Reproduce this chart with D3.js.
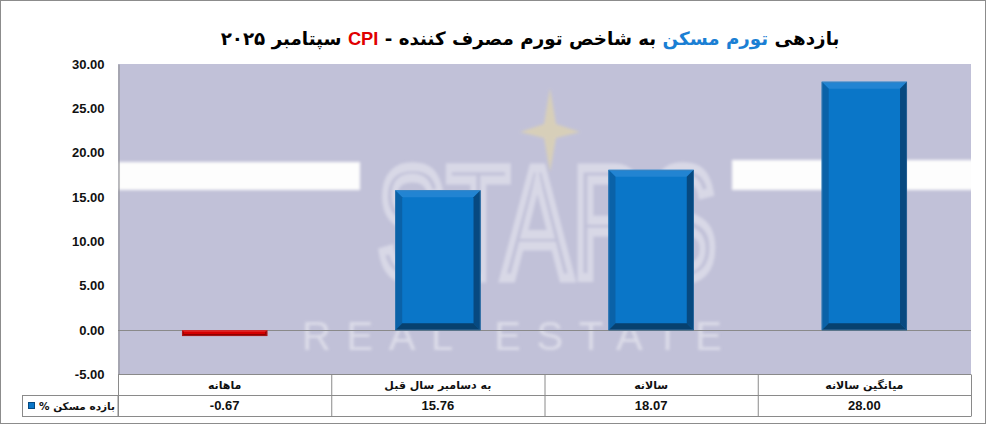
<!DOCTYPE html>
<html>
<head>
<meta charset="utf-8">
<script src="https://cdn.jsdelivr.net/npm/d3@7/dist/d3.min.js"></script>
<style>
  html, body { margin: 0; padding: 0; background: #fff; }
  svg { display: block; }
</style>
</head>
<body>
<svg id="chart" width="987" height="425"></svg>
<script>
// Chart data
const categories = ["ماهانه", "به دسامبر سال قبل", "سالانه", "میانگین سالانه"];
const values = [-0.67, 15.76, 18.07, 28.00];
const seriesName = "بازده مسکن %";
const yTicks = [-5, 0, 5, 10, 15, 20, 25, 30];
const titleParts = [
  { text: "بازدهی ", color: "#000" },
  { text: "تورم مسکن", color: "#1a7fd4" },
  { text: " به شاخص تورم مصرف کننده - ", color: "#000" },
  { text: "CPI", color: "#e00000" },
  { text: "  سپتامبر ۲۰۲۵", color: "#000" }
];

const W = 987, H = 425;
const plot = { left: 118, right: 971, top: 64, bottom: 374.5 };
const table = { row1: 374.5, row2: 395.5, row3: 416.5, legendLeft: 22.5 };
const faFont = "'DejaVu Sans', sans-serif";
const numFont = "'Liberation Sans', Arial, sans-serif";

// plain hyphen for negative numbers
const fmt = d3.formatLocale({ decimal: ".", thousands: ",", grouping: [3], currency: ["", ""], minus: "-" }).format(".2f");

const svg = d3.select("#chart");

// outer frame
svg.append("rect").attr("x", 0.5).attr("y", 0.5).attr("width", W - 2).attr("height", H - 2)
  .attr("fill", "#fff").attr("stroke", "#8c8c8c");

const y = d3.scaleLinear().domain([-5, 30]).range([plot.bottom, plot.top]);
const x = d3.scaleBand().domain(categories).range([plot.left, plot.right])
  .paddingInner(0.6).paddingOuter(0.3);
const col = d3.scaleBand().domain(categories).range([plot.left, plot.right]).padding(0);

// plot background
svg.append("rect").attr("x", plot.left).attr("y", plot.top)
  .attr("width", plot.right - plot.left).attr("height", plot.bottom - plot.top)
  .attr("fill", "#c1c1d8");

// watermark logo
const defs = svg.append("defs");
defs.append("filter").attr("id", "soft").append("feGaussianBlur").attr("stdDeviation", 1.6);
defs.append("clipPath").attr("id", "plotClip").append("rect")
  .attr("x", plot.left).attr("y", plot.top)
  .attr("width", plot.right - plot.left).attr("height", plot.bottom - plot.top);

const wm = svg.append("g").attr("clip-path", "url(#plotClip)");
const wmBands = wm.append("g").attr("filter", "url(#soft)");
wmBands.append("rect").attr("x", plot.left).attr("y", 162).attr("width", 242).attr("height", 28).attr("fill", "#fdfdfd");
wmBands.append("rect").attr("x", 732).attr("y", 160).attr("width", 250).attr("height", 30).attr("fill", "#fdfdfd");
wm.append("text").attr("x", 547).attr("y", 278).attr("text-anchor", "middle")
  .attr("font-family", "'Liberation Sans', Arial, sans-serif").attr("font-size", 160)
  .attr("textLength", 340).attr("lengthAdjust", "spacingAndGlyphs")
  .attr("fill", "none").attr("stroke", "#f4f4f8").attr("stroke-opacity", 0.45).attr("stroke-width", 9)
  .attr("filter", "url(#soft)").text("STARS");
wm.append("path")
  .attr("d", "M550,88 L556,124 L580,132 L556,138 L550,172 L544,138 L520,132 L544,124 Z")
  .attr("fill", "#dcd2b4").attr("opacity", 0.85).attr("filter", "url(#soft)");
wm.append("text").attr("x", 512).attr("y", 350).attr("text-anchor", "middle")
  .attr("font-family", "'Liberation Sans', Arial, sans-serif").attr("font-size", 40)
  .attr("textLength", 420).attr("lengthAdjust", "spacing")
  .attr("fill", "#f2f2f6").attr("opacity", 0.55)
  .attr("filter", "url(#soft)").text("REAL ESTATE");

// zero line
svg.append("line").attr("x1", plot.left).attr("x2", plot.right)
  .attr("y1", Math.round(y(0)) + 0.5).attr("y2", Math.round(y(0)) + 0.5)
  .attr("stroke", "#8a8a8a").attr("stroke-width", 1);

// y axis
const yAxis = d3.axisLeft(y).tickValues(yTicks).tickFormat(fmt)
  .tickSize(0).tickPadding(14);
const ga = svg.append("g").attr("transform", `translate(${plot.left + 0.5},0)`).call(yAxis);
ga.select(".domain").attr("stroke", "#8a8a8a");
ga.selectAll("text").attr("font-family", numFont).attr("font-weight", "bold")
  .attr("font-size", 13).attr("fill", "#111");

// beveled bars
const palettes = {
  pos: { main: "#0a76c8", top: "#2284d2", left: "#0a62a8", right: "#074980", bottom: "#07416f" },
  neg: { main: "#d40000", top: "#e02020", left: "#a80000", right: "#8c0000", bottom: "#900000" }
};
const bars = svg.append("g");
categories.forEach((c, i) => {
  const v = values[i];
  const x0 = x(c), x1 = x(c) + x.bandwidth();
  const yt = Math.min(y(v), y(0)), yb = Math.max(y(v), y(0));
  const p = v >= 0 ? palettes.pos : palettes.neg;
  const b = Math.min(7, (yb - yt) / 3);
  const g = bars.append("g");
  g.append("rect").attr("x", x0).attr("y", yt).attr("width", x1 - x0).attr("height", yb - yt).attr("fill", p.main);
  const poly = (pts, fill) => g.append("polygon").attr("points", pts.map(q => q.join(",")).join(" ")).attr("fill", fill);
  poly([[x0, yt], [x1, yt], [x1 - b, yt + b], [x0 + b, yt + b]], p.top);
  poly([[x0, yt], [x0 + b, yt + b], [x0 + b, yb - b], [x0, yb]], p.left);
  poly([[x1, yt], [x1 - b, yt + b], [x1 - b, yb - b], [x1, yb]], p.right);
  poly([[x0, yb], [x0 + b, yb - b], [x1 - b, yb - b], [x1, yb]], p.bottom);
  g.append("rect").attr("x", x0 + 0.5).attr("y", yt + 0.5).attr("width", x1 - x0 - 1).attr("height", yb - yt - 1)
    .attr("fill", "none").attr("stroke", v >= 0 ? "#5a86b0" : "#c04040").attr("stroke-width", 0.6).attr("stroke-opacity", 0.6);
});

// data table under the plot
const tg = svg.append("g");
const lineC = "#8a8a8a";
[table.row1, table.row2, table.row3].forEach(yy => {
  tg.append("line").attr("x1", plot.left).attr("x2", plot.right).attr("y1", yy).attr("y2", yy).attr("stroke", lineC);
});
col.domain().forEach(c => {
  tg.append("line").attr("x1", col(c) + 0.5).attr("x2", col(c) + 0.5)
    .attr("y1", table.row1).attr("y2", table.row3).attr("stroke", lineC);
});
tg.append("line").attr("x1", plot.right + 0.5).attr("x2", plot.right + 0.5)
  .attr("y1", table.row1).attr("y2", table.row3).attr("stroke", lineC);
// legend cell
tg.append("rect").attr("x", table.legendLeft).attr("y", table.row2)
  .attr("width", plot.left - table.legendLeft).attr("height", table.row3 - table.row2)
  .attr("fill", "none").attr("stroke", lineC);
tg.append("rect").attr("x", 28.5).attr("y", 402.5).attr("width", 6).attr("height", 6)
  .attr("fill", palettes.pos.main).attr("stroke", palettes.pos.right).attr("stroke-width", 1);
tg.append("text").attr("x", 115).attr("y", 410).attr("text-anchor", "start").attr("direction", "rtl")
  .attr("font-family", faFont).attr("font-size", 10.5).attr("font-weight", "bold").attr("fill", "#111")
  .attr("textLength", 76).attr("lengthAdjust", "spacingAndGlyphs")
  .text(seriesName);

tg.selectAll("text.cat").data(categories).join("text").attr("class", "cat")
  .attr("x", c => col(c) + col.bandwidth() / 2).attr("y", 389).attr("text-anchor", "middle")
  .attr("direction", "rtl").attr("font-family", faFont).attr("font-size", 11).attr("font-weight", "bold")
  .attr("fill", "#111").text(c => c);
tg.selectAll("text.val").data(values).join("text").attr("class", "val")
  .attr("x", (v, i) => col(categories[i]) + col.bandwidth() / 2).attr("y", 410).attr("text-anchor", "middle")
  .attr("font-family", numFont).attr("font-size", 13).attr("font-weight", "bold")
  .attr("fill", "#111").text(fmt);

// title
const title = svg.append("text").attr("x", 530).attr("y", 45).attr("text-anchor", "middle")
  .attr("direction", "rtl").attr("font-family", faFont).attr("font-weight", "bold").attr("font-size", 18.3);
title.selectAll("tspan").data(titleParts).join("tspan")
  .attr("fill", d => d.color)
  .attr("font-family", d => d.text === "CPI" ? numFont : faFont)
  .text(d => d.text);
</script>
</body>
</html>
